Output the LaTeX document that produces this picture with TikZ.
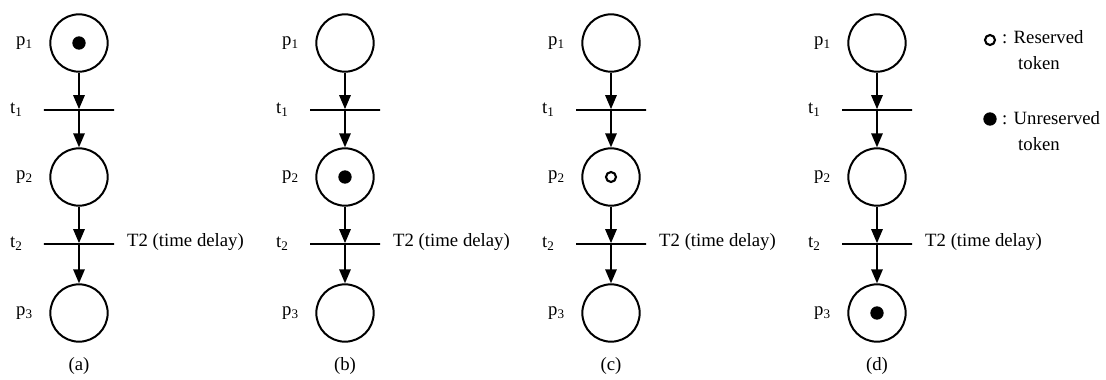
\documentclass[tikz,border=0pt]{standalone}
\usepackage{fontspec}
\setmainfont{Liberation Serif}
\usetikzlibrary{arrows.meta}
\tikzset{
  place/.style    ={draw, circle, line width=1.7pt,
                    minimum size=1.72cm, inner sep=0pt},
  transbar/.style ={draw, rectangle, line width=1.4pt,
                    minimum width=2.1cm, minimum height=0pt, inner sep=0pt},
  arcarr/.style   ={-{Triangle[length=0.42cm,width=0.34cm]}, line width=1.6pt},
  token/.style    ={circle, fill, inner sep=0pt, minimum size=0.4cm},
  restoken/.style ={circle, draw, line width=1.8pt, inner sep=0pt, minimum size=0.3cm},
  lbl/.style      ={font=\fontsize{16}{22}\selectfont, inner sep=0pt},
}

\begin{document}
\begin{tikzpicture}[x=0.03cm,y=-0.03cm]
    \useasboundingbox (0,0) rectangle (1106,379);

    % The four markings of the same net
    \foreach \col/\cx in {a/79,b/345,c/611,d/877}{
      \node[place] (p1\col) at (\cx,43) {};
      \node[transbar] (t1\col) at (\cx,110) {};
      \node[place] (p2\col) at (\cx,177) {};
      \node[transbar] (t2\col) at (\cx,244) {};
      \node[place] (p3\col) at (\cx,313) {};

      \node[lbl,anchor=west] (lp1\col) at (\cx-63,43) {p\textsubscript{1}};
      \node[lbl,anchor=west] (lt1\col) at (\cx-69,110) {t\textsubscript{1}};
      \node[lbl,anchor=west] (lp2\col) at (\cx-63,177) {p\textsubscript{2}};
      \node[lbl,anchor=west] (lt2\col) at (\cx-69,244) {t\textsubscript{2}};
      \node[lbl,anchor=west] (lp3\col) at (\cx-63,313) {p\textsubscript{3}};
      \node[lbl,anchor=west] (delay\col) at (\cx+48,242) {T2 (time delay)};
      \node[lbl] (cap\col) at (\cx,366) {(\col)};

      \draw[arcarr] (p1\col) -- (t1\col);
      \draw[arcarr] (t1\col) -- (p2\col);
      \draw[arcarr] (p2\col) -- (t2\col);
      \draw[arcarr] (t2\col) -- (p3\col);
    }

    % Tokens
    \node[token] (tokA) at (p1a) {};
    \node[token] (tokB) at (p2b) {};
    \node[restoken] (tokC) at (p2c) {};
    \node[token] (tokD) at (p3d) {};

    % Legend
    \node[restoken] (keyres) at (990,40) {};
    \node[lbl,anchor=west,align=left] (keyrestxt) at (1002,50)
      {: Reserved\\\hspace*{0.85em}token};
    \node[token] (keyunres) at (990,119) {};
    \node[lbl,anchor=west,align=left] (keyunrestxt) at (1002,131)
      {: Unreserved\\\hspace*{0.85em}token};
\end{tikzpicture}
\end{document}
